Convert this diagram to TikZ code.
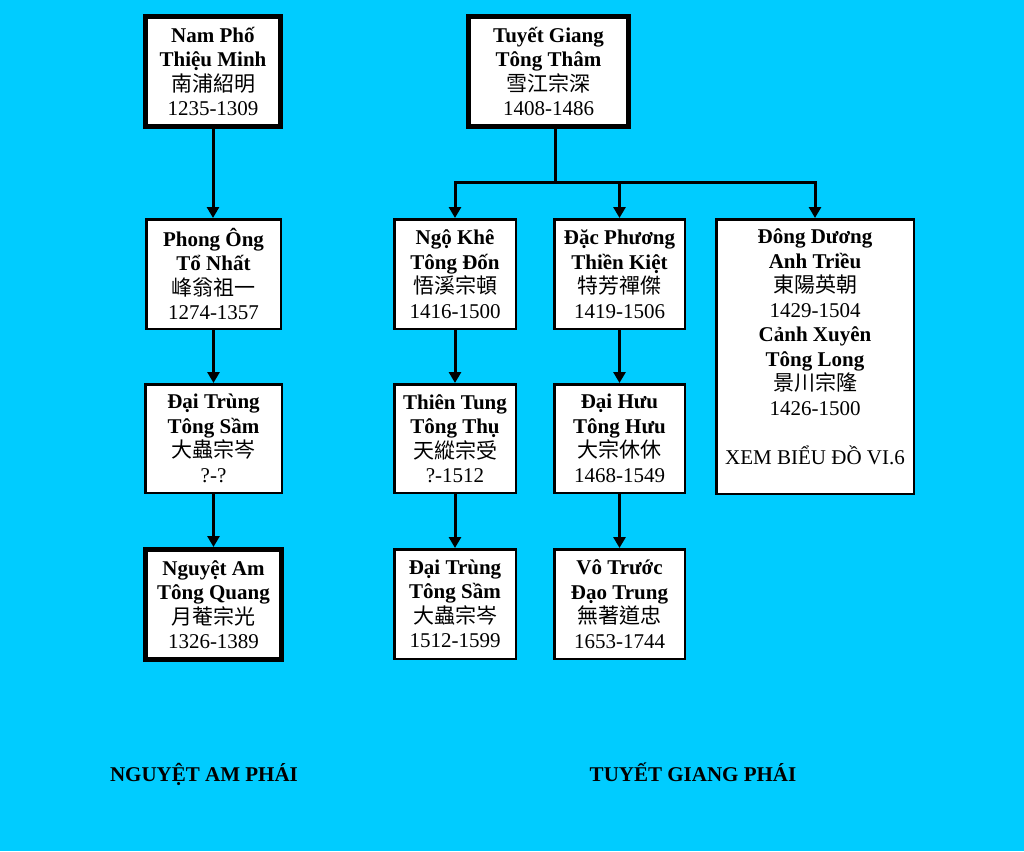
\documentclass[tikz,border=0pt]{standalone}
\usepackage{fontspec}
\setmainfont{Liberation Serif}
\newfontfamily\cjk{Noto Sans CJK TC}
\usetikzlibrary{arrows.meta}
\definecolor{bgcyan}{RGB}{0,204,255}
\begin{document}
\begin{tikzpicture}[x=1pt,y=-1pt,
  box/.style={draw=black, fill=white, line width=2.5pt, align=center, inner sep=0pt,
    font=\fontsize{21}{24.5}\selectfont},
  thick box/.style={box, line width=5pt},
  conn/.style={draw=black, line width=3pt, line cap=rect},
  arr/.style={conn, -{Triangle[width=12pt,length=11pt]}},
  branch/.style={font=\fontsize{21}{24.5}\selectfont\bfseries, anchor=base, inner sep=0pt}
]
\fill[bgcyan] (0,0) rectangle (1024,851);
\useasboundingbox (0,0) rectangle (1024,851);

% top row
\node[thick box, minimum width=135pt, minimum height=110pt] (np) at (213,71.5)
  {\textbf{Nam Phố}\\\textbf{Thiệu Minh}\\{\cjk 南浦紹明}\\1235-1309};
\node[thick box, minimum width=160pt, minimum height=110pt] (tg) at (548.5,71.5)
  {\textbf{Tuyết Giang}\\\textbf{Tông Thâm}\\{\cjk 雪江宗深}\\1408-1486};

% second row
\node[box, minimum width=134.5pt, minimum height=109.5pt] (po) at (213.5,274)
  {\textbf{Phong Ông}\\\textbf{Tổ Nhất}\\{\cjk 峰翁祖一}\\1274-1357};
\node[box, minimum width=121.5pt, minimum height=109.5pt] (nk) at (455,274)
  {\textbf{Ngộ Khê}\\\textbf{Tông Đốn}\\{\cjk 悟溪宗頓}\\1416-1500};
\node[box, minimum width=130.5pt, minimum height=109.5pt] (dp) at (619.5,274)
  {\textbf{Đặc Phương}\\\textbf{Thiền Kiệt}\\{\cjk 特芳禪傑}\\1419-1506};
\node[box, minimum width=197.5pt, minimum height=274.5pt] (dd) at (815,356.5) {};
\node[align=center, inner sep=0pt, font=\fontsize{21}{24.5}\selectfont] (ddt) at ([yshift=10pt]dd.center)
  {\textbf{Đông Dương}\\\textbf{Anh Triều}\\{\cjk 東陽英朝}\\1429-1504\\\textbf{Cảnh Xuyên}\\\textbf{Tông Long}\\{\cjk 景川宗隆}\\1426-1500\\[24.5pt]XEM BIỂU ĐỒ VI.6};

% third row
\node[box, minimum width=136.5pt, minimum height=108.5pt] (dt1) at (213.5,438.5)
  {\textbf{Đại Trùng}\\\textbf{Tông Sầm}\\{\cjk 大蟲宗岑}\\?-?};
\node[box, minimum width=121.5pt, minimum height=108.5pt] (tt) at (455,438.5)
  {\textbf{Thiên Tung}\\\textbf{Tông Thụ}\\{\cjk 天縱宗受}\\?-1512};
\node[box, minimum width=130.5pt, minimum height=108.5pt] (dh) at (619.5,438.5)
  {\textbf{Đại Hưu}\\\textbf{Tông Hưu}\\{\cjk 大宗休休}\\1468-1549};

% fourth row
\node[thick box, minimum width=136pt, minimum height=110pt] (na) at (213.5,604.5)
  {\textbf{Nguyệt Am}\\\textbf{Tông Quang}\\{\cjk 月菴宗光}\\1326-1389};
\node[box, minimum width=121.5pt, minimum height=109.5pt] (dt2) at (455,604)
  {\textbf{Đại Trùng}\\\textbf{Tông Sầm}\\{\cjk 大蟲宗岑}\\1512-1599};
\node[box, minimum width=130.5pt, minimum height=109.5pt] (vt) at (619.5,604)
  {\textbf{Vô Trước}\\\textbf{Đạo Trung}\\{\cjk 無著道忠}\\1653-1744};

% branch labels
\node[branch] (lna) at (204,781) {NGUYỆT AM PHÁI};
\node[branch] (ltg) at (693,781) {TUYẾT GIANG PHÁI};

% left chain
\draw[arr] (np.south) -- (np.south |- po.north);
\draw[arr] (po.south) -- (po.south |- dt1.north);
\draw[arr] (dt1.south) -- (dt1.south |- na.north);

% right tree
\coordinate (j) at (555,182);
\draw[conn] (tg.south -| j) -- (j);
\draw[conn] (j -| nk) -- (j -| dd);
\draw[arr] (j -| nk) -- (nk.north);
\draw[arr] (j -| dp) -- (dp.north);
\draw[arr] (j -| dd) -- (dd.north);
\draw[arr] (nk.south) -- (nk.south |- tt.north);
\draw[arr] (tt.south) -- (tt.south |- dt2.north);
\draw[arr] (dp.south) -- (dp.south |- dh.north);
\draw[arr] (dh.south) -- (dh.south |- vt.north);
\end{tikzpicture}
\end{document}
